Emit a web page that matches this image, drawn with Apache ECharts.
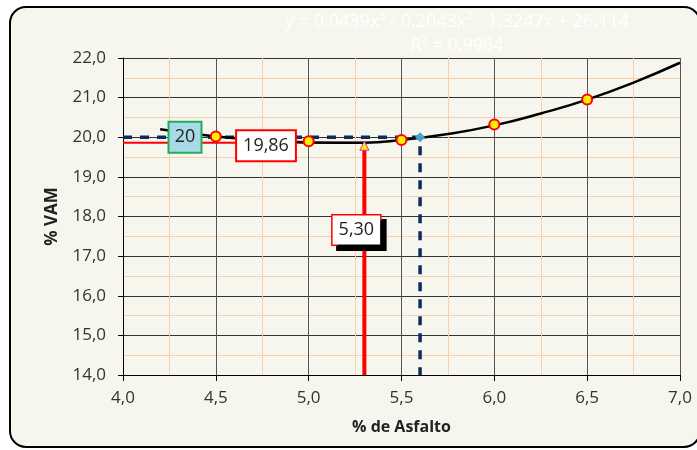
<!DOCTYPE html>
<html>
<head>
<meta charset="utf-8">
<script src="https://cdn.jsdelivr.net/npm/echarts@6/dist/echarts.min.js"></script>
<style>
html,body{margin:0;padding:0;background:#fff;}
#c{width:697px;height:450px;}
</style>
</head>
<body>
<div id="c"></div>
<script>
// Measured points (% asphalt, % VAM)
var asphalt = [4.5, 5.0, 5.5, 6.0, 6.5];
var vam = [20.02, 19.90, 19.93, 20.32, 20.95];
// Trendline
var trendX = [4.2, 4.5, 4.75, 5.0, 5.3, 5.5, 5.75, 6.0, 6.25, 6.5, 6.75, 7.0];
var trendY = [20.20, 20.02, 19.93, 19.87, 19.86, 19.93, 20.08, 20.30, 20.60, 20.95, 21.38, 21.88];
// Reference values
var vamTarget = 20.0;
var asphaltAtTarget = 5.6;
var vamMin = 19.86;
var asphaltOpt = 5.30;
var equationText = 'y = 0,0439x³ - 0,2043x² - 1,3247x + 26,114';
var r2Text = 'R² = 0,9964';
var xAxisName = '% de Asfalto';
var yAxisName = '% VAM';

function fmt(v, d){ return v.toFixed(d).replace('.', ','); }
function zip(a, b){ return a.map(function(v, i){ return [v, b[i]]; }); }

var chart = echarts.init(document.getElementById('c'));
var FONT = '"Open Sans", "Liberation Sans", sans-serif';
var xMin = 4, yMin = 14;

chart.setOption({
  animation: false,
  backgroundColor: '#ffffff',
  graphic: [
    {type: 'rect', z: -10, shape: {x: 10, y: 7, width: 690, height: 440, r: 16},
     style: {fill: '#f6f6ee', stroke: '#000', lineWidth: 2}},
    {type: 'text', z: 10, x: 457, y: 22,
     style: {text: equationText, fill: '#ffffff', font: '18px ' + FONT, align: 'center', verticalAlign: 'middle'}},
    {type: 'text', z: 10, x: 457, y: 46,
     style: {text: r2Text, fill: '#ffffff', font: '18px ' + FONT, align: 'center', verticalAlign: 'middle'}}
  ],
  grid: {left: 123, right: 17, top: 58, bottom: 75},
  xAxis: {
    type: 'value', min: 4, max: 7, interval: 0.5,
    name: xAxisName, nameLocation: 'middle', nameGap: 44,
    nameTextStyle: {fontFamily: FONT, fontWeight: 'bold', fontSize: 16, color: '#222'},
    axisLine: {show: true, lineStyle: {color: '#000', width: 1}},
    axisTick: {show: true, length: 6, lineStyle: {color: '#000'}},
    axisLabel: {fontFamily: FONT, fontSize: 17, color: '#333', margin: 15, formatter: function(v){ return fmt(v,1); }},
    splitLine: {show: true, lineStyle: {color: '#555', width: 1}},
    minorTick: {show: false, splitNumber: 2},
    minorSplitLine: {show: true, lineStyle: {color: '#f7cfaa', width: 1}}
  },
  yAxis: {
    type: 'value', min: 14, max: 22, interval: 1,
    name: yAxisName, nameLocation: 'middle', nameGap: 62, nameRotate: 90,
    nameTextStyle: {fontFamily: FONT, fontWeight: 'bold', fontSize: 17, color: '#222'},
    axisLine: {show: true, lineStyle: {color: '#000', width: 1}},
    axisTick: {show: true, length: 5, lineStyle: {color: '#000'}},
    axisLabel: {fontFamily: FONT, fontSize: 17, color: '#333', margin: 17, formatter: function(v){ return fmt(v,1); }},
    splitLine: {show: true, lineStyle: {color: '#333', width: 1}},
    minorTick: {show: false, splitNumber: 2},
    minorSplitLine: {show: true, lineStyle: {color: '#f7cfaa', width: 1}}
  },
  series: [
    {type: 'line', data: [[xMin, vamMin], [asphaltOpt, vamMin]], symbol: 'none',
     lineStyle: {color: '#ff0000', width: 2}, z: 3},
    {type: 'line', data: [[asphaltOpt, vamMin], [asphaltOpt, yMin]], symbol: 'none',
     lineStyle: {color: '#ff0000', width: 4}, z: 3},
    {type: 'line', data: [[xMin, vamTarget], [asphaltAtTarget, vamTarget], [asphaltAtTarget, yMin]], symbol: 'none',
     lineStyle: {color: '#0f2a5c', width: 3.5, type: [9, 8]}, z: 4},
    {type: 'line', data: zip(trendX, trendY), smooth: true, symbol: 'none',
     lineStyle: {color: '#000', width: 2.5}, z: 5},
    {type: 'scatter', data: [[asphaltOpt, vamMin]], symbol: 'triangle', symbolSize: 9, symbolOffset: [0, 3],
     itemStyle: {color: '#ffee00', borderColor: '#cc33cc', borderWidth: 1, opacity: 1}, z: 6},
    {type: 'scatter', data: zip(asphalt, vam), symbol: 'circle', symbolSize: 10,
     itemStyle: {color: '#ffee00', borderColor: '#ff0000', borderWidth: 2, opacity: 1}, z: 6},
    {type: 'scatter', data: [[asphaltAtTarget, vamTarget]], symbol: 'diamond', symbolSize: 10,
     itemStyle: {color: '#4aa0cc', opacity: 1}, z: 6},
    // labels
    {type: 'scatter', symbolSize: 0, z: 10, silent: true, itemStyle: {opacity: 1},
     data: [{value: [xMin, vamTarget], label: {show: true, position: 'inside', offset: [62, 0],
        formatter: function(){ return fmt(vamTarget, 0); },
        backgroundColor: '#a9d9e6', borderColor: '#1fae5a', borderWidth: 2,
        padding: [6, 3, 5, 3], width: 25, align: 'center',
        fontFamily: FONT, fontSize: 18, color: '#222'}}]},
    {type: 'scatter', symbolSize: 0, z: 10, silent: true, itemStyle: {opacity: 1},
     data: [{value: [xMin, vamMin], label: {show: true, position: 'inside', offset: [143, 3],
        formatter: function(){ return fmt(vamMin, 2); },
        backgroundColor: '#ffffff', borderColor: '#ff0000', borderWidth: 2,
        padding: [6, 6, 5, 6], fontFamily: FONT, fontSize: 18, color: '#222'}}]},
    {type: 'scatter', symbolSize: 0, z: 10, silent: true, itemStyle: {opacity: 1},
     data: [{value: [asphaltOpt, yMin], label: {show: true, position: 'inside', offset: [-8, -145],
        formatter: function(){ return fmt(asphaltOpt, 2); },
        backgroundColor: '#ffffff', borderColor: '#ff0000', borderWidth: 1.5,
        shadowColor: '#000', shadowOffsetX: 5, shadowOffsetY: 5, shadowBlur: 0,
        padding: [6, 6, 5, 6], fontFamily: FONT, fontSize: 18, color: '#222'}}]}
  ]
});
</script>
</body>
</html>
